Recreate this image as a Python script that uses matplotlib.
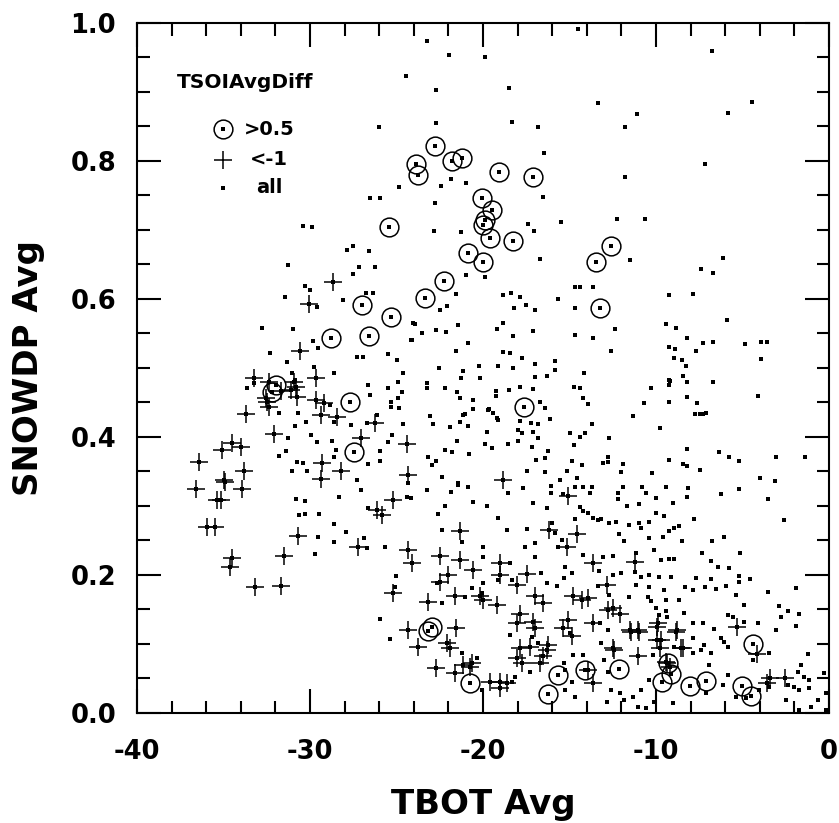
import matplotlib
matplotlib.use("Agg")
import matplotlib.pyplot as plt
import numpy as np
from matplotlib.ticker import MultipleLocator

# points with TSOIAvgDiff > 0.5  (TBOT Avg, SNOWDP Avg)
gt_half = [
    (-23.89, 0.796), (-23.74, 0.779), (-22.79, 0.822), (-21.77, 0.800), (-21.19, 0.805),
    (-19.09, 0.784), (-17.13, 0.777), (-20.06, 0.746), (-19.50, 0.729), (-19.88, 0.714),
    (-19.98, 0.707), (-19.60, 0.689), (-18.28, 0.684), (-25.43, 0.705), (-20.85, 0.666),
    (-19.98, 0.653), (-22.24, 0.626), (-23.35, 0.602), (-12.60, 0.677), (-13.49, 0.653),
    (-13.24, 0.587), (-17.61, 0.443), (-27.01, 0.591), (-25.32, 0.574), (-28.79, 0.544),
    (-26.61, 0.546), (-27.66, 0.450), (-32.20, 0.465), (-31.95, 0.475), (-27.46, 0.378),
    (-23.16, 0.119), (-22.97, 0.125), (-20.75, 0.043), (-15.68, 0.055), (-16.26, 0.028),
    (-14.10, 0.062), (-12.12, 0.063), (-9.29, 0.072), (-9.13, 0.057), (-9.67, 0.045),
    (-8.03, 0.039), (-7.11, 0.047), (-4.41, 0.100), (-5.01, 0.039), (-4.51, 0.024),
]

# points with TSOIAvgDiff < -1
lt_minus1 = [
    (-28.67, 0.624), (-30.06, 0.593), (-30.60, 0.525), (-33.24, 0.486), (-32.37, 0.480),
    (-30.92, 0.480), (-30.79, 0.473), (-29.67, 0.485), (-31.12, 0.468), (-30.73, 0.458),
    (-31.70, 0.466), (-32.47, 0.451), (-32.37, 0.444), (-32.56, 0.456), (-29.67, 0.454),
    (-29.19, 0.449), (-29.38, 0.432), (-28.42, 0.429), (-33.68, 0.434), (-32.08, 0.405),
    (-36.42, 0.364), (-35.07, 0.381), (-34.49, 0.391), (-33.97, 0.386), (-33.82, 0.350),
    (-34.97, 0.338), (-29.29, 0.362), (-28.23, 0.350), (-29.38, 0.339), (-27.07, 0.398),
    (-36.59, 0.325), (-34.91, 0.335), (-33.95, 0.325), (-35.39, 0.309), (-35.13, 0.308),
    (-35.97, 0.270), (-35.49, 0.270), (-34.53, 0.224), (-34.62, 0.212), (-33.18, 0.182),
    (-31.70, 0.184), (-31.50, 0.227), (-30.71, 0.257), (-27.21, 0.240), (-26.24, 0.420),
    (-26.14, 0.294), (-25.86, 0.287), (-25.18, 0.309), (-24.41, 0.390), (-24.32, 0.345),
    (-24.32, 0.236), (-24.13, 0.217), (-25.18, 0.174), (-24.32, 0.120), (-23.74, 0.096),
    (-18.83, 0.338), (-15.07, 0.314), (-21.33, 0.264), (-16.17, 0.265), (-14.59, 0.260),
    (-15.16, 0.241), (-22.49, 0.228), (-21.33, 0.222), (-19.02, 0.217), (-17.47, 0.202),
    (-19.02, 0.200), (-13.62, 0.217), (-11.21, 0.219), (-22.01, 0.200), (-22.49, 0.190),
    (-18.06, 0.186), (-12.85, 0.186), (-23.16, 0.161), (-21.62, 0.169), (-20.17, 0.169),
    (-19.98, 0.164), (-19.21, 0.157), (-16.99, 0.169), (-16.51, 0.159), (-17.86, 0.144),
    (-17.09, 0.132), (-14.79, 0.169), (-14.30, 0.164), (-12.08, 0.144), (-12.76, 0.149),
    (-15.07, 0.135), (-15.36, 0.123), (-13.62, 0.130), (-14.88, 0.111), (-21.56, 0.123),
    (-22.10, 0.101), (-21.91, 0.094), (-17.86, 0.094), (-17.28, 0.096), (-16.22, 0.099),
    (-16.51, 0.082), (-18.06, 0.079), (-16.71, 0.072), (-17.77, 0.072), (-22.72, 0.065),
    (-21.14, 0.070), (-20.75, 0.067), (-19.60, 0.045), (-19.02, 0.045), (-18.63, 0.043),
    (-19.02, 0.036), (-13.62, 0.043), (-13.91, 0.062), (-12.47, 0.094), (-11.02, 0.082),
    (-11.02, 0.120), (-11.50, 0.120), (-9.96, 0.125), (-9.96, 0.106), (-9.77, 0.094),
    (-8.81, 0.120), (-8.42, 0.094), (-9.38, 0.072), (-9.19, 0.067), (-5.34, 0.125),
    (-4.18, 0.086), (-3.41, 0.050), (-2.54, 0.050), (-3.60, 0.043), (-12.50, 0.152),
    (-11.45, 0.118), (-10.96, 0.118), (-12.41, 0.091), (-9.91, 0.130), (-9.71, 0.106),
    (-8.84, 0.118), (-8.55, 0.094), (-9.42, 0.074), (-20.56, 0.207), (-18.06, 0.130),
    (-16.99, 0.123), (-21.62, 0.058), (-20.65, 0.073), (-16.32, 0.091), (-13.91, 0.166),
]

# remaining points (all)
other = [
    (-24.45, 0.923), (-26.01, 0.849), (-24.86, 0.762), (-26.53, 0.746), (-25.95, 0.746),
    (-30.40, 0.706), (-29.88, 0.704), (-27.51, 0.677), (-27.86, 0.671), (-26.59, 0.670),
    (-27.17, 0.646), (-26.24, 0.646), (-31.27, 0.649), (-27.51, 0.636), (-31.45, 0.603),
    (-30.29, 0.619), (-28.09, 0.599), (-26.36, 0.609), (-26.76, 0.609), (-32.77, 0.558),
    (-30.98, 0.557), (-29.83, 0.539), (-29.54, 0.529), (-32.31, 0.522), (-31.33, 0.509),
    (-27.28, 0.516), (-26.94, 0.516), (-25.49, 0.520), (-24.97, 0.512), (-24.10, 0.541),
    (-24.05, 0.565), (-28.61, 0.493), (-24.62, 0.493), (-26.65, 0.475), (-25.49, 0.471),
    (-26.53, 0.461), (-24.91, 0.457), (-25.32, 0.443), (-28.84, 0.446), (-31.04, 0.493),
    (-30.87, 0.483), (-33.64, 0.471), (-30.69, 0.435), (-26.13, 0.432), (-23.24, 0.974),
    (-21.97, 0.954), (-19.88, 0.951), (-22.72, 0.903), (-18.50, 0.906), (-13.35, 0.884),
    (-22.72, 0.855), (-18.32, 0.857), (-16.82, 0.849), (-16.47, 0.812), (-14.51, 0.991),
    (-22.43, 0.764), (-21.85, 0.774), (-20.98, 0.768), (-22.77, 0.739), (-16.53, 0.748),
    (-17.40, 0.709), (-17.05, 0.699), (-15.49, 0.712), (-22.83, 0.699), (-21.27, 0.697),
    (-6.76, 0.959), (-11.10, 0.868), (-11.79, 0.849), (-5.84, 0.870), (-4.45, 0.886),
    (-7.17, 0.796), (-11.79, 0.777), (-12.25, 0.716), (-10.64, 0.716), (-16.71, 0.658),
    (-11.50, 0.657), (-7.40, 0.643), (-6.13, 0.659), (-6.71, 0.638), (-20.98, 0.635),
    (-19.88, 0.632), (-21.56, 0.607), (-22.08, 0.590), (-22.49, 0.584), (-18.84, 0.606),
    (-18.38, 0.609), (-17.86, 0.603), (-18.21, 0.587), (-17.51, 0.591), (-16.99, 0.584),
    (-15.66, 0.600), (-14.68, 0.617), (-14.39, 0.617), (-13.64, 0.617), (-14.68, 0.587),
    (-9.25, 0.606), (-7.86, 0.607), (-5.90, 0.570), (-23.53, 0.551), (-22.72, 0.555),
    (-22.14, 0.552), (-21.45, 0.562), (-20.87, 0.536), (-18.84, 0.565), (-19.19, 0.557),
    (-18.27, 0.546), (-17.11, 0.554), (-14.68, 0.548), (-13.64, 0.543), (-12.37, 0.557),
    (-9.42, 0.564), (-8.84, 0.558), (-21.56, 0.525), (-18.84, 0.523), (-18.44, 0.522),
    (-17.75, 0.514), (-16.99, 0.506), (-16.99, 0.487), (-15.84, 0.510), (-15.84, 0.497),
    (-14.16, 0.493), (-12.60, 0.525), (-8.90, 0.528), (-8.21, 0.543), (-7.69, 0.525),
    (-7.28, 0.536), (-6.71, 0.538), (-4.86, 0.535), (-3.93, 0.538), (-3.58, 0.538),
    (-3.93, 0.513), (-22.54, 0.500), (-21.16, 0.496), (-21.27, 0.486), (-20.23, 0.503),
    (-19.13, 0.503), (-20.17, 0.486), (-18.27, 0.500), (-23.24, 0.478), (-23.24, 0.471),
    (-22.20, 0.471), (-21.50, 0.465), (-18.50, 0.468), (-17.86, 0.472), (-17.11, 0.470),
    (-19.25, 0.467), (-16.30, 0.488), (-14.74, 0.472), (-14.39, 0.471), (-13.93, 0.448),
    (-11.33, 0.430), (-10.29, 0.471), (-9.25, 0.483), (-9.25, 0.451), (-8.21, 0.458),
    (-8.44, 0.488), (-8.21, 0.480), (-6.71, 0.480), (-7.63, 0.449), (-7.75, 0.433),
    (-7.28, 0.433), (-4.10, 0.459), (-20.58, 0.454), (-20.58, 0.441), (-19.65, 0.441),
    (-21.16, 0.432), (-19.19, 0.428), (-16.71, 0.451), (-16.42, 0.442), (-23.06, 0.430),
    (-8.96, 0.514), (-8.50, 0.512), (-8.27, 0.503), (-9.19, 0.481), (-9.25, 0.475),
    (-10.69, 0.449), (-7.46, 0.433), (-7.11, 0.435), (-9.77, 0.413), (-12.72, 0.399),
    (-8.21, 0.383), (-6.36, 0.378), (-5.78, 0.371), (-5.20, 0.365), (-3.06, 0.371),
    (-1.39, 0.371), (-9.25, 0.367), (-8.44, 0.361), (-8.21, 0.358), (-12.77, 0.371),
    (-12.77, 0.364), (-13.06, 0.362), (-11.91, 0.361), (-12.02, 0.349), (-10.23, 0.348),
    (-7.46, 0.352), (-3.99, 0.341), (-3.12, 0.336), (-9.25, 0.530), (-23.93, 0.564),
    (-24.16, 0.541), (-24.91, 0.480), (-24.68, 0.465), (-25.32, 0.451), (-21.33, 0.457),
    (-19.25, 0.459), (-14.22, 0.457), (-24.86, 0.442), (-19.71, 0.439), (-19.42, 0.435),
    (-17.86, 0.423), (-17.23, 0.420), (-16.82, 0.419), (-16.13, 0.426), (-21.04, 0.433),
    (-22.89, 0.419), (-21.91, 0.414), (-21.33, 0.422), (-20.87, 0.416), (-24.62, 0.419),
    (-19.77, 0.407), (-19.13, 0.425), (-17.98, 0.410), (-17.75, 0.406), (-17.11, 0.407),
    (-16.82, 0.399), (-14.97, 0.406), (-14.39, 0.400), (-14.10, 0.406), (-13.70, 0.419),
    (-25.95, 0.380), (-25.49, 0.393), (-25.26, 0.403), (-21.50, 0.394), (-19.88, 0.390),
    (-19.48, 0.384), (-18.55, 0.390), (-17.98, 0.394), (-17.17, 0.386), (-16.24, 0.380),
    (-14.74, 0.388), (-22.20, 0.381), (-21.79, 0.378), (-20.81, 0.375), (-23.18, 0.371),
    (-22.72, 0.365), (-26.65, 0.361), (-25.95, 0.365), (-22.95, 0.359), (-16.94, 0.367),
    (-16.42, 0.370), (-14.86, 0.365), (-14.28, 0.359), (-17.46, 0.351), (-16.42, 0.349),
    (-15.14, 0.351), (-15.55, 0.338), (-14.57, 0.341), (-22.37, 0.342), (-21.45, 0.333),
    (-29.60, 0.588), (-30.00, 0.613), (-29.77, 0.501), (-33.24, 0.478), (-31.79, 0.435),
    (-30.87, 0.416), (-30.23, 0.422), (-28.61, 0.422), (-27.63, 0.417), (-26.71, 0.420),
    (-29.94, 0.403), (-29.60, 0.393), (-28.73, 0.394), (-31.27, 0.399), (-31.39, 0.380),
    (-31.79, 0.372), (-30.75, 0.364), (-30.40, 0.362), (-31.04, 0.351), (-30.17, 0.351),
    (-28.61, 0.371), (-27.28, 0.338), (-28.50, 0.381), (-30.81, 0.310), (-30.29, 0.307),
    (-28.32, 0.313), (-27.05, 0.323), (-26.65, 0.297), (-30.64, 0.287), (-30.29, 0.288),
    (-29.48, 0.288), (-28.61, 0.274), (-27.92, 0.262), (-29.54, 0.255), (-28.61, 0.248),
    (-29.71, 0.230), (-26.88, 0.254), (-25.95, 0.136), (-25.38, 0.107), (-25.03, 0.199),
    (-25.09, 0.183), (-25.66, 0.241), (-24.16, 0.312), (-24.34, 0.333), (-23.24, 0.323),
    (-21.85, 0.320), (-21.45, 0.330), (-20.87, 0.328), (-24.39, 0.313), (-22.20, 0.300),
    (-22.60, 0.288), (-20.58, 0.306), (-19.77, 0.300), (-19.13, 0.283), (-18.55, 0.319),
    (-17.69, 0.326), (-17.11, 0.304), (-16.30, 0.297), (-16.07, 0.329), (-16.07, 0.319),
    (-14.68, 0.328), (-14.22, 0.328), (-13.70, 0.328), (-15.38, 0.317), (-13.82, 0.319),
    (-14.39, 0.299), (-14.22, 0.293), (-13.93, 0.290), (-13.64, 0.283), (-13.35, 0.280),
    (-14.68, 0.281), (-16.01, 0.275), (-15.84, 0.261), (-15.43, 0.251), (-15.66, 0.241),
    (-15.14, 0.241), (-14.22, 0.229), (-14.86, 0.203), (-15.32, 0.196), (-13.35, 0.184),
    (-26.71, 0.239), (-22.37, 0.265), (-21.21, 0.248), (-20.00, 0.241), (-18.61, 0.265),
    (-17.46, 0.267), (-17.57, 0.241), (-16.99, 0.246), (-16.99, 0.226), (-20.00, 0.226),
    (-18.44, 0.217), (-16.65, 0.203), (-15.26, 0.212), (-22.66, 0.188), (-20.64, 0.181),
    (-20.00, 0.188), (-19.13, 0.193), (-18.32, 0.193), (-16.30, 0.188), (-15.72, 0.184),
    (-22.37, 0.159), (-21.04, 0.168), (-20.06, 0.174), (-18.44, 0.113), (-17.17, 0.110),
    (-16.82, 0.101), (-14.80, 0.084), (-14.22, 0.084), (-15.32, 0.072), (-15.26, 0.062),
    (-14.86, 0.045), (-15.26, 0.033), (-14.68, 0.023), (-20.35, 0.080), (-21.21, 0.087),
    (-18.15, 0.052), (-18.32, 0.045), (-17.28, 0.059), (-20.06, 0.033), (-12.08, 0.029),
    (-11.33, 0.023), (-11.04, 0.009), (-12.83, 0.016), (-14.97, 0.116), (-11.91, 0.328),
    (-10.81, 0.328), (-9.42, 0.328), (-8.15, 0.326), (-5.20, 0.325), (-12.20, 0.319),
    (-10.58, 0.319), (-8.21, 0.313), (-6.24, 0.317), (-3.53, 0.310), (-12.20, 0.310),
    (-11.68, 0.300), (-10.98, 0.303), (-10.00, 0.312), (-9.02, 0.304), (-10.00, 0.290),
    (-9.54, 0.286), (-7.80, 0.281), (-2.60, 0.280), (-13.18, 0.281), (-12.72, 0.275),
    (-12.31, 0.277), (-11.56, 0.272), (-10.98, 0.275), (-10.40, 0.277), (-10.87, 0.268),
    (-8.67, 0.271), (-8.96, 0.268), (-9.25, 0.264), (-12.14, 0.259), (-10.40, 0.254),
    (-9.60, 0.255), (-8.50, 0.249), (-6.76, 0.249), (-6.07, 0.255), (-11.85, 0.249),
    (-13.06, 0.226), (-12.49, 0.228), (-11.16, 0.232), (-10.12, 0.236), (-9.71, 0.222),
    (-9.25, 0.223), (-8.96, 0.223), (-7.34, 0.232), (-6.82, 0.220), (-6.42, 0.212),
    (-5.78, 0.210), (-5.14, 0.232), (-13.29, 0.206), (-12.49, 0.200), (-12.02, 0.203),
    (-11.21, 0.204), (-10.87, 0.197), (-10.40, 0.200), (-9.83, 0.197), (-9.13, 0.197),
    (-7.69, 0.196), (-6.82, 0.194), (-5.20, 0.199), (-5.20, 0.190), (-4.57, 0.194),
    (-11.16, 0.186), (-10.40, 0.183), (-9.54, 0.178), (-8.32, 0.183), (-7.86, 0.178),
    (-7.17, 0.183), (-6.53, 0.180), (-5.95, 0.184), (-3.53, 0.175), (-1.91, 0.181),
    (-12.72, 0.171), (-11.56, 0.168), (-10.46, 0.168), (-10.29, 0.162), (-9.42, 0.164),
    (-8.67, 0.164), (-5.38, 0.171), (-4.91, 0.157), (-2.89, 0.155), (-2.37, 0.148),
    (-1.73, 0.143), (-2.77, 0.139), (-10.00, 0.152), (-9.83, 0.142), (-9.42, 0.148),
    (-9.36, 0.139), (-8.38, 0.145), (-13.24, 0.130), (-12.77, 0.120), (-7.86, 0.130),
    (-7.28, 0.130), (-6.65, 0.122), (-5.84, 0.142), (-5.55, 0.139), (-4.91, 0.132),
    (-4.10, 0.130), (-3.06, 0.120), (-1.91, 0.126), (-13.18, 0.101), (-7.86, 0.109),
    (-6.24, 0.109), (-6.07, 0.103), (-5.84, 0.096), (-7.40, 0.091), (-7.23, 0.099),
    (-6.82, 0.087), (-7.86, 0.087), (-8.96, 0.096), (-10.17, 0.084), (-4.39, 0.077),
    (-3.47, 0.087), (-1.21, 0.086), (-1.62, 0.070), (-1.79, 0.059), (-1.45, 0.052),
    (-1.16, 0.048), (-0.29, 0.058), (-2.37, 0.041), (-2.02, 0.038), (-1.73, 0.033),
    (-1.16, 0.036), (-0.17, 0.029), (-0.64, 0.019), (-1.04, 0.009), (-1.73, 0.004),
    (-0.17, 0.004), (-3.47, 0.038), (-2.49, 0.019), (-4.05, 0.033), (-5.38, 0.023),
    (-4.80, 0.022), (-6.13, 0.041), (-5.84, 0.055), (-6.94, 0.070), (-7.11, 0.029),
    (-10.40, 0.048), (-10.87, 0.033), (-11.85, 0.019), (-12.60, 0.033), (-10.12, 0.016),
    (-9.02, 0.014), (-10.58, 0.007), (-13.01, 0.077), (-12.77, 0.059),
]

x_ticks = [-40, -30, -20, -10, 0]
x_tick_labels = ["-40", "-30", "-20", "-10", "0"]
y_ticks = [0.0, 0.2, 0.4, 0.6, 0.8, 1.0]
y_tick_labels = ["0.0", "0.2", "0.4", "0.6", "0.8", "1.0"]

gx, gy = np.array(gt_half).T
lx, ly = np.array(lt_minus1).T
ox, oy = np.array(other).T
all_x = np.concatenate([ox, gx, lx])
all_y = np.concatenate([oy, gy, ly])

plt.rcParams['font.family'] = ['DejaVu Sans']

fig = plt.figure(figsize=(8.39, 8.23), dpi=100)
ax = fig.add_axes([0.1633, 0.1337, 0.8248, 0.8384])

ax.plot(all_x, all_y, 's', color='black', markersize=2.3, markeredgewidth=0, zorder=3)
ax.plot(gx, gy, 'o', markerfacecolor='none', markeredgecolor='black',
        markersize=13.5, markeredgewidth=1.1, zorder=4)
ax.plot(lx, ly, '+', color='black', markersize=13.5, markeredgewidth=1.1, zorder=4)

ax.set_xlim(-40, 0)
ax.set_ylim(0, 1.0)
ax.set_xticks(x_ticks)
ax.set_xticklabels(x_tick_labels)
ax.set_yticks(y_ticks)
ax.set_yticklabels(y_tick_labels)
ax.xaxis.set_minor_locator(MultipleLocator(2))
ax.yaxis.set_minor_locator(MultipleLocator(0.05))

ax.tick_params(which='both', direction='in', top=True, right=True, width=1.5)
ax.tick_params(which='major', length=17, labelsize=18.5, pad=15)
ax.tick_params(which='minor', length=9)
ax.tick_params(axis='x', which='major', pad=19)
for lab in ax.get_xticklabels() + ax.get_yticklabels():
    lab.set_fontweight('bold')
for sp in ax.spines.values():
    sp.set_linewidth(1.5)

ax.set_xlabel('TBOT Avg', fontsize=24.5, fontweight='bold', labelpad=16)
ax.set_ylabel('SNOWDP Avg', fontsize=24.5, fontweight='bold', labelpad=18)

# legend drawn inside the plot, top left
ax.text(0.058, 0.913, 'TSOIAvgDiff', transform=ax.transAxes, fontsize=14.5,
        fontweight='bold', ha='left', va='center')
ax.plot([0.124], [0.846], 'o', transform=ax.transAxes, markerfacecolor='none',
        markeredgecolor='black', markersize=13.5, markeredgewidth=1.1)
ax.plot([0.124], [0.846], 's', transform=ax.transAxes, color='black',
        markersize=2.3, markeredgewidth=0)
ax.plot([0.124], [0.802], '+', transform=ax.transAxes, color='black',
        markersize=13.5, markeredgewidth=1.1)
ax.plot([0.124], [0.761], 's', transform=ax.transAxes, color='black',
        markersize=2.3, markeredgewidth=0)
ax.text(0.191, 0.846, '>0.5', transform=ax.transAxes, fontsize=14,
        fontweight='bold', ha='center', va='center')
ax.text(0.191, 0.802, '<-1', transform=ax.transAxes, fontsize=14,
        fontweight='bold', ha='center', va='center')
ax.text(0.191, 0.761, 'all', transform=ax.transAxes, fontsize=14,
        fontweight='bold', ha='center', va='center')

fig.savefig('out.png', dpi=100)
